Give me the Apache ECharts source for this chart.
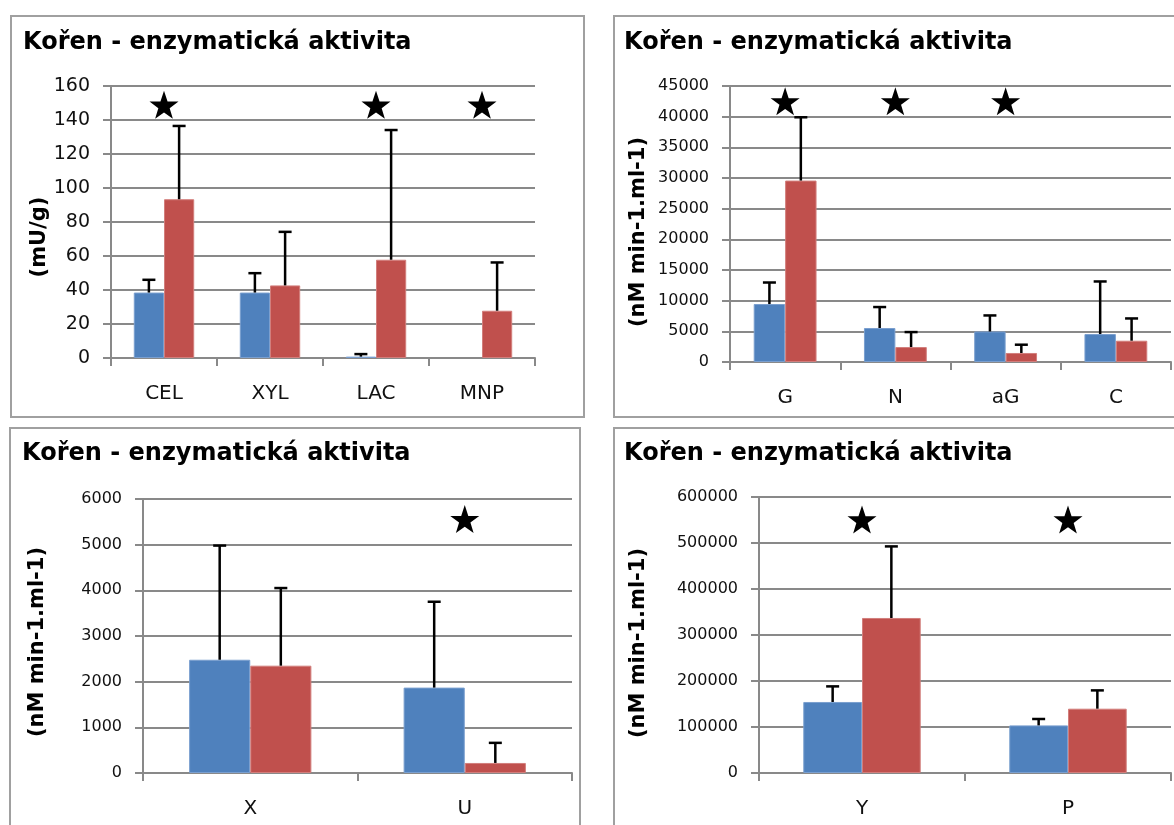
<!DOCTYPE html>
<html>
<head>
<meta charset="utf-8">
<script src="https://cdn.jsdelivr.net/npm/echarts@6/dist/echarts.min.js"></script>
<style>
  html, body { margin: 0; padding: 0; background: #fff; }
  #chart { width: 1174px; height: 825px; }
</style>
</head>
<body>
<div id="chart"></div>
<script>
// Panel 1: celulase, xylanase, lakase, MnP (mU/g)
const p1Categories = ['CEL', 'XYL', 'LAC', 'MNP'];
const p1Blue = [38.5, 38.5, 0.8, 0];
const p1BlueSd = [7.5, 11.4, 1.5, null];
const p1Red = [93.4, 42.7, 57.8, 27.8];
const p1RedSd = [43.1, 31.5, 76.3, 28.4];
const p1Stars = ['CEL', 'LAC', 'MNP'];
const p1StarLevel = 149;
const p1Ticks = [0, 20, 40, 60, 80, 100, 120, 140, 160];

// Panel 2: glykosidázy (nM min-1.ml-1)
const p2Categories = ['G', 'N', 'aG', 'C'];
const p2Blue = [9450, 5540, 4980, 4560];
const p2BlueSd = [3510, 3420, 2610, 8570];
const p2Red = [29580, 2440, 1470, 3470];
const p2RedSd = [10320, 2440, 1350, 3630];
const p2Stars = ['G', 'N', 'aG'];
const p2StarLevel = 42500;
const p2Ticks = [0, 5000, 10000, 15000, 20000, 25000, 30000, 35000, 40000, 45000];

// Panel 3
const p3Categories = ['X', 'U'];
const p3Blue = [2480, 1870];
const p3BlueSd = [2500, 1880];
const p3Red = [2350, 220];
const p3RedSd = [1700, 440];
const p3Stars = ['U'];
const p3StarLevel = 5560;
const p3Ticks = [0, 1000, 2000, 3000, 4000, 5000, 6000];

// Panel 4
const p4Categories = ['Y', 'P'];
const p4Blue = [154400, 103500];
const p4BlueSd = [33900, 13900];
const p4Red = [337000, 139800];
const p4RedSd = [155600, 39800];
const p4Stars = ['Y', 'P'];
const p4StarLevel = 551000;
const p4Ticks = [0, 100000, 200000, 300000, 400000, 500000, 600000];

const titleText = 'Kořen - enzymatická aktivita';
const unitMass = '(mU/g)';
const unitRate = '(nM min-1.ml-1)';

const BLUE = '#4F81BD';
const RED = '#C0504D';
const GRID_GRAY = '#898989';
const FRAME_GRAY = '#a0a0a0';
const FONT = 'DejaVu Sans';
const GAP = 0.43;

const panels = [
  { cats: p1Categories, blue: p1Blue, blueSd: p1BlueSd, red: p1Red, redSd: p1RedSd,
    stars: p1Stars, starLevel: p1StarLevel, ticks: p1Ticks, unit: unitMass,
    grid: { left: 111, top: 86, width: 424, height: 272 },
    tickFont: 19, nameGap: 60, namePad: [0, 30, 0, 0],
    frame: { x: 11, y: 16, width: 573, height: 401 }, title: { left: 23, top: 31 } },
  { cats: p2Categories, blue: p2Blue, blueSd: p2BlueSd, red: p2Red, redSd: p2RedSd,
    stars: p2Stars, starLevel: p2StarLevel, ticks: p2Ticks, unit: unitRate,
    grid: { left: 730, top: 86, width: 441, height: 276 },
    tickFont: 16, nameGap: 81, namePad: [0, 16, 0, 0],
    frame: { x: 614, y: 16, width: 600, height: 401 }, title: { left: 624, top: 31 } },
  { cats: p3Categories, blue: p3Blue, blueSd: p3BlueSd, red: p3Red, redSd: p3RedSd,
    stars: p3Stars, starLevel: p3StarLevel, ticks: p3Ticks, unit: unitRate,
    grid: { left: 143, top: 499, width: 429, height: 274 },
    tickFont: 16, nameGap: 95, namePad: [0, 12, 0, 0],
    frame: { x: 10, y: 428, width: 570, height: 430 }, title: { left: 22, top: 442 } },
  { cats: p4Categories, blue: p4Blue, blueSd: p4BlueSd, red: p4Red, redSd: p4RedSd,
    stars: p4Stars, starLevel: p4StarLevel, ticks: p4Ticks, unit: unitRate,
    grid: { left: 759, top: 497, width: 412, height: 276 },
    tickFont: 16, nameGap: 110, namePad: [0, 16, 0, 0],
    frame: { x: 614, y: 428, width: 600, height: 430 }, title: { left: 624, top: 442 } }
];

const STAR_PATH = 'path://M50,0 L61.8,35.1 L98.1,35.1 L68.8,56.8 L79.4,91 L50,70.5 L20.6,91 L31.2,56.8 L1.9,35.1 L38.2,35.1 Z';

// whisker from the bar top up to mean + SD, with a short cap
function errorRenderer(side) {
  return function (params, api) {
    const cat = api.value(0);
    const base = api.coord([cat, api.value(1)]);
    const top = api.coord([cat, api.value(2)]);
    const catW = api.size([1, 0])[0];
    const barW = catW * (1 - GAP) / 2;
    const x = base[0] + side * barW / 2;
    const style = { stroke: '#000', lineWidth: 2.5 };
    return {
      type: 'group',
      children: [
        { type: 'line', shape: { x1: x, y1: base[1], x2: x, y2: top[1] }, style },
        { type: 'line', shape: { x1: x - 6.5, y1: top[1], x2: x + 6.5, y2: top[1] }, style }
      ]
    };
  };
}

function errorData(means, sds) {
  const out = [];
  means.forEach((m, i) => {
    if (sds[i] != null) out.push([i, m, m + sds[i]]);
  });
  return out;
}

// a zero-height bar keeps its value but draws no outline
function barData(values) {
  return values.map(v => (v === 0 ? { value: v, itemStyle: { borderWidth: 0 } } : v));
}

const grids = [], xAxes = [], yAxes = [], series = [], titles = [], frames = [];

panels.forEach((p, k) => {
  grids.push(p.grid);
  titles.push({
    text: titleText, left: p.title.left, top: p.title.top, padding: 0,
    textStyle: { fontFamily: FONT, fontWeight: 'bold', fontSize: 24, color: '#000' }
  });
  frames.push({
    type: 'rect', shape: p.frame, z: -1,
    style: { fill: '#fff', stroke: FRAME_GRAY, lineWidth: 2 }
  });
  xAxes.push({
    type: 'category', gridIndex: k, data: p.cats, boundaryGap: true,
    axisLine: { lineStyle: { color: GRID_GRAY, width: 2 } },
    axisTick: { show: true, length: 8, lineStyle: { color: GRID_GRAY, width: 2 } },
    axisLabel: { fontFamily: FONT, fontSize: 20, color: '#111', margin: 26 }
  });
  const last = p.ticks[p.ticks.length - 1];
  yAxes.push({
    type: 'value', gridIndex: k, min: p.ticks[0], max: last, interval: p.ticks[1] - p.ticks[0],
    name: p.unit, nameLocation: 'middle', nameGap: p.nameGap,
    nameTextStyle: { fontFamily: FONT, fontWeight: 'bold', fontSize: 21, color: '#000', padding: p.namePad },
    axisLine: { show: true, lineStyle: { color: GRID_GRAY, width: 2 } },
    axisTick: { show: true, length: 8, lineStyle: { color: GRID_GRAY, width: 2 } },
    splitLine: { show: true, lineStyle: { color: GRID_GRAY, width: 2 } },
    axisLabel: { fontFamily: FONT, fontSize: p.tickFont, color: '#111', margin: 21,
      formatter: v => String(v) }
  });
  series.push({
    type: 'bar', xAxisIndex: k, yAxisIndex: k, data: barData(p.blue),
    barGap: '0%', barCategoryGap: (GAP * 100) + '%',
    itemStyle: { color: BLUE, borderColor: '#7a9fcf', borderWidth: 1 }, silent: true
  });
  series.push({
    type: 'bar', xAxisIndex: k, yAxisIndex: k, data: barData(p.red),
    barGap: '0%', barCategoryGap: (GAP * 100) + '%',
    itemStyle: { color: RED, borderColor: '#d27e7c', borderWidth: 1 }, silent: true
  });
  series.push({
    type: 'custom', xAxisIndex: k, yAxisIndex: k, z: 5, silent: true,
    renderItem: errorRenderer(-1), data: errorData(p.blue, p.blueSd)
  });
  series.push({
    type: 'custom', xAxisIndex: k, yAxisIndex: k, z: 5, silent: true,
    renderItem: errorRenderer(1), data: errorData(p.red, p.redSd)
  });
  series.push({
    type: 'scatter', xAxisIndex: k, yAxisIndex: k, z: 6, silent: true,
    symbol: STAR_PATH, symbolSize: [29, 28], symbolKeepAspect: false,
    itemStyle: { color: '#000', opacity: 1 },
    data: p.stars.map(c => [c, p.starLevel])
  });
});

const chart = echarts.init(document.getElementById('chart'), null, { renderer: 'canvas' });
chart.setOption({
  backgroundColor: '#fff',
  animation: false,
  title: titles,
  graphic: frames,
  grid: grids,
  xAxis: xAxes,
  yAxis: yAxes,
  series: series
});
</script>
</body>
</html>
